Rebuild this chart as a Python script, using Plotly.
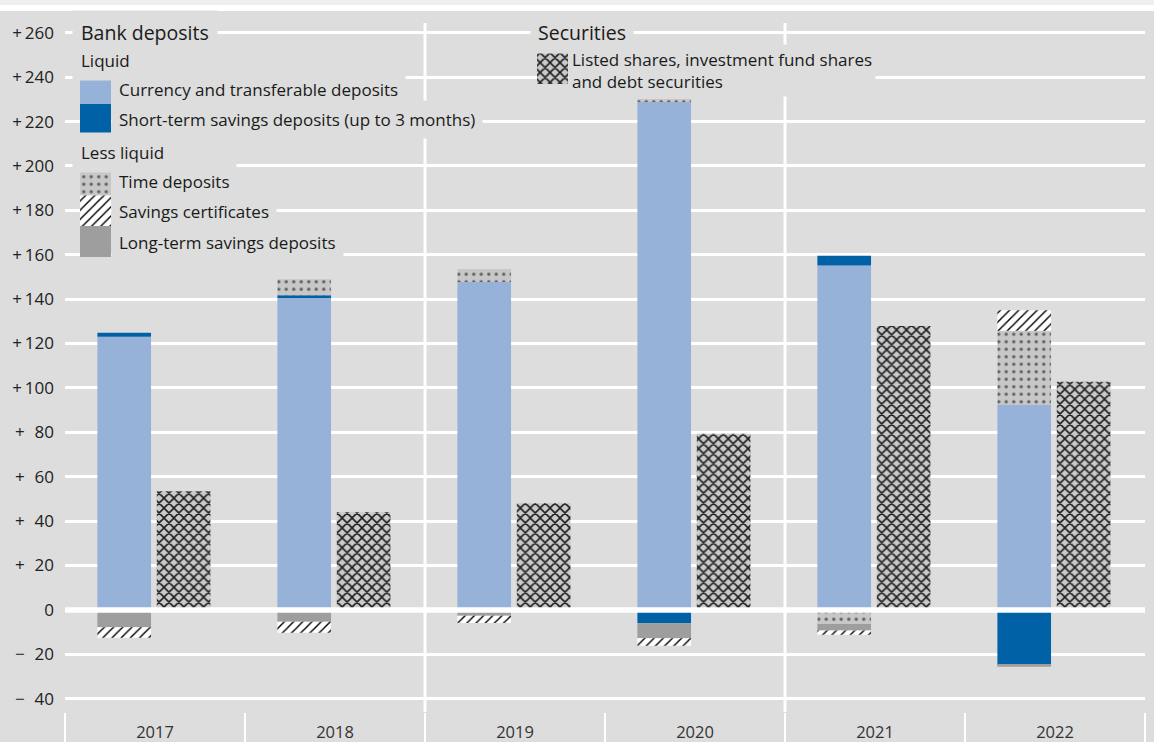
import plotly.graph_objects as go

# ---------------- data (EUR bn) ----------------
years = ["2017", "2018", "2019", "2020", "2021", "2022"]
currency_transferable = [123.0, 140.5, 147.7, 228.8, 155.1, 92.3]
short_term_savings = [1.8, 1.2, 0.0, -6.0, 4.4, -24.8]
time_deposits = [0.0, 7.3, 5.9, 1.35, -6.3, 33.5]
long_term_savings = [-7.8, -5.3, -2.6, -6.8, -3.0, -0.8]
savings_certificates = [-4.7, -5.0, -3.3, -3.3, -1.95, 9.2]
securities = [53.5, 44.0, 48.2, 79.3, 127.9, 102.8]

y_tickvals = [-40, -20, 0, 20, 40, 60, 80, 100, 120, 140, 160, 180, 200, 220, 240, 260]
y_ticktext = ["\u2212\u200740", "\u2212\u200720", "0", "+\u200720", "+\u200740", "+\u200760",
              "+\u200780", "+\u2009100", "+\u2009120", "+\u2009140", "+\u2009160", "+\u2009180",
              "+\u2009200", "+\u2009220", "+\u2009240", "+\u2009260"]

# ---------------- style ----------------
BG = "#dcdddc"
C_CUR = "#97b2d8"
C_SHORT = "#0061a6"
C_LONG = "#9d9e9d"
C_TIME_BG = "#c6c7c6"
C_TIME_FG = "#5e5e5e"
C_SEC_BG = "#c9cac9"
C_SEC_FG = "#1e1e1e"
TXT = "#1a1a1a"
FONT = "Open Sans"
FS = 17

W, H = 1154, 742
L, R, T, B = 65, 9, 23, 30
PLOT_TOP, PLOT_BOT = T, H - B

idx = list(range(len(years)))
x_dep = [i - 0.171 for i in idx]
x_sec = [i + 0.159 for i in idx]
bw = 0.298

pat_time = dict(shape=".", bgcolor=C_TIME_BG, fgcolor=C_TIME_FG, size=7.5, solidity=0.16, fgopacity=1)
pat_cert = dict(shape="/", bgcolor="white", fgcolor="#000000", size=6.5, solidity=0.22, fgopacity=1)
pat_sec = dict(shape="x", bgcolor=C_SEC_BG, fgcolor=C_SEC_FG, size=7, solidity=0.4, fgopacity=1)

fig = go.Figure()


def add_bar(x, y, color, pattern=None):
    marker = dict(color=color, line=dict(width=0))
    if pattern:
        marker["pattern"] = pattern
    fig.add_trace(go.Bar(x=x, y=y, width=[bw] * len(x), marker=marker,
                         showlegend=False, hoverinfo="skip"))


add_bar(x_dep, currency_transferable, C_CUR)
add_bar(x_dep, short_term_savings, C_SHORT)
add_bar(x_dep, time_deposits, C_TIME_BG, pat_time)
add_bar(x_dep, long_term_savings, C_LONG)
add_bar(x_dep, savings_certificates, "white", pat_cert)
add_bar(x_sec, securities, C_SEC_BG, pat_sec)

# ---------------- legend (pixel coordinates via overlay axes) ----------------
def swatch(x0, y0, x1, y1, color, pattern=None):
    kw = dict(x=[x0, x1, x1, x0, x0], y=[y0, y0, y1, y1, y0], mode="lines",
              fill="toself", fillcolor=color, line=dict(width=0),
              xaxis="x2", yaxis="y2", showlegend=False, hoverinfo="skip")
    if pattern:
        kw["fillpattern"] = pattern
    fig.add_trace(go.Scatter(**kw))


swatch(80, 73, 111, 104, C_CUR)
swatch(80, 104, 111, 134.5, C_SHORT)
swatch(80, 165, 111, 195.5, C_TIME_BG, pat_time)
swatch(80, 195.5, 111, 226, "white", pat_cert)
swatch(80, 226, 111, 257, C_LONG)
swatch(537, 53, 568, 84, C_SEC_BG, pat_sec)

annos = []


def label(x, y, text, size=FS, pad=7):
    annos.append(dict(x=x, y=y, xref="x2", yref="y2", text=text, showarrow=False,
                      xanchor="left", yanchor="middle", align="left",
                      bgcolor=BG, borderpad=pad,
                      font=dict(family=FONT, size=size, color=TXT)))


label(72, 32, "Bank deposits", size=19.5, pad=8)
label(72, 60, "Liquid", pad=8)
label(111, 89, "Currency and transferable deposits")
label(111, 119, "Short-term savings deposits (up to 3 months)")
label(72, 152, "Less liquid", pad=8)
label(111, 181, "Time deposits")
label(111, 211, "Savings certificates")
label(111, 242, "Long-term savings deposits")
label(530, 32, "Securities", size=19.5, pad=7)
label(568, 70, "Listed shares, investment fund shares<br>and debt securities", pad=3)

# ---------------- shapes ----------------
shapes = []
# vertical white separators between 2018/2019 and 2020/2021
for xv in (1.5, 3.5):
    shapes.append(dict(type="line", xref="x", yref="paper", x0=xv, x1=xv, y0=0, y1=1,
                       line=dict(color="white", width=3), layer="below"))
# zero line above bars
shapes.append(dict(type="line", xref="paper", yref="y", x0=0, x1=1, y0=0, y1=0,
                   line=dict(color="white", width=5.5), layer="above"))
# top page strips
ph = PLOT_BOT - PLOT_TOP


def py(p):
    return (PLOT_BOT - p) / ph


shapes.append(dict(type="rect", xref="paper", yref="paper", x0=-L / 1080, x1=1 + R / 1080,
                   y0=py(11), y1=py(5), fillcolor="white", line=dict(width=0), layer="below"))
shapes.append(dict(type="rect", xref="paper", yref="paper", x0=-L / 1080, x1=1 + R / 1080,
                   y0=py(5), y1=py(0), fillcolor="#efefef", line=dict(width=0), layer="below"))

fig.update_layout(
    width=W, height=H,
    margin=dict(l=L, r=R, t=T, b=B, pad=0, autoexpand=False),
    paper_bgcolor=BG, plot_bgcolor=BG,
    barmode="relative",
    showlegend=False,
    font=dict(family=FONT, size=FS, color=TXT),
    xaxis=dict(range=[-0.5, 5.5], tickvals=idx, ticktext=years, ticks="",
               showgrid=False, zeroline=False, showline=False, automargin=False,
               tickfont=dict(family=FONT, size=16.5, color="#333333"),
               ticklabelstandoff=8,
               minor=dict(tickvals=[i - 0.5 for i in range(len(years) + 1)], ticks="outside",
                          ticklen=30, tickwidth=2, tickcolor="white", showgrid=False),
               fixedrange=True),
    yaxis=dict(range=[-46.0, 264.4], tickvals=y_tickvals, ticktext=y_ticktext, ticks="",
               showgrid=True, gridcolor="white", gridwidth=3, zeroline=False,
               showline=False, ticklabelstandoff=10, automargin=False,
               tickfont=dict(family=FONT, size=17, color="#222222"), fixedrange=True),
    xaxis2=dict(range=[L, L + 1080], overlaying="x", anchor="y2", visible=False, fixedrange=True),
    yaxis2=dict(range=[PLOT_BOT, PLOT_TOP], overlaying="y", anchor="x2", visible=False,
                fixedrange=True),
    annotations=annos,
    shapes=shapes,
)

fig.write_html(
    "out.html",
    config={"displayModeBar": False},
    post_script="document.body.style.margin='0';document.body.style.padding='0';"
                "document.documentElement.style.overflow='hidden';",
)
